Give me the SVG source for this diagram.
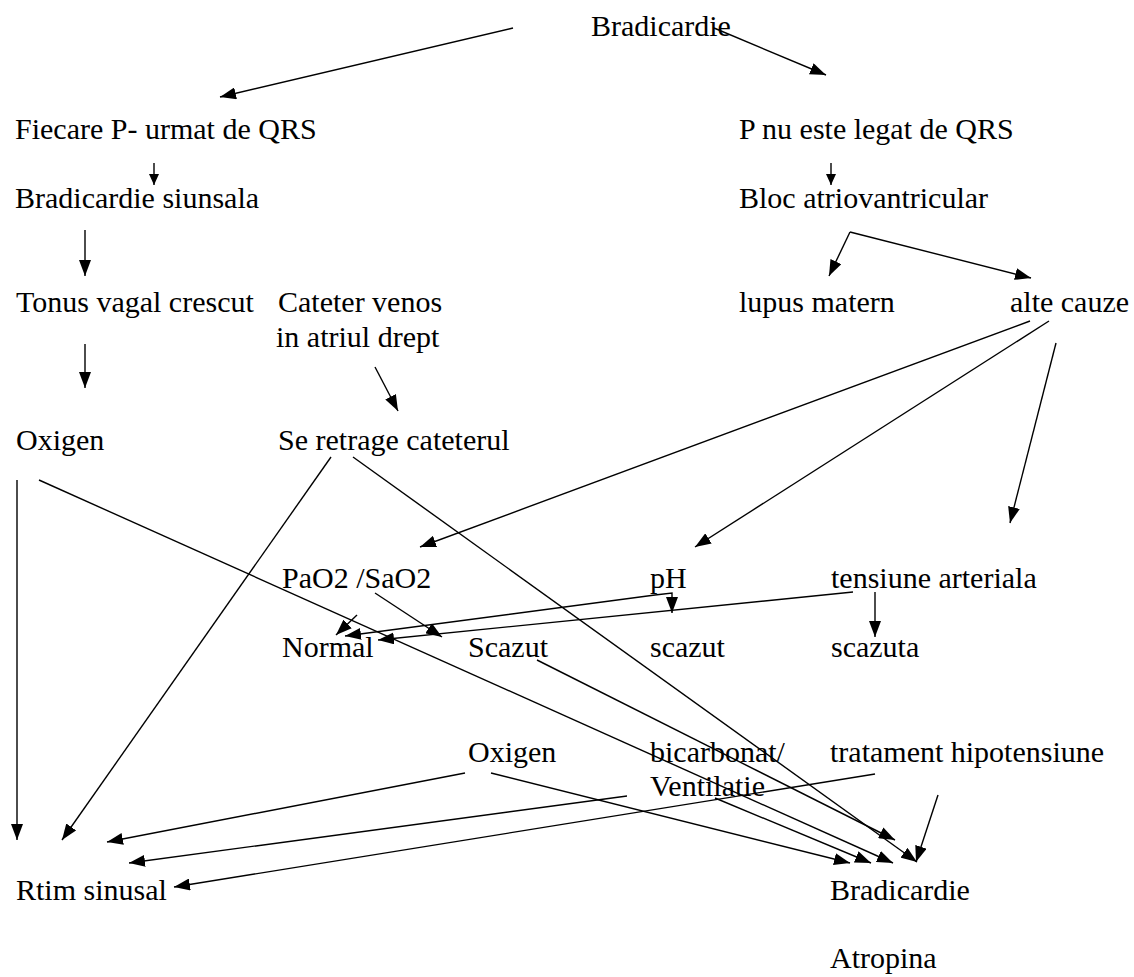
<svg xmlns="http://www.w3.org/2000/svg" width="1134" height="977" viewBox="0 0 1134 977">
<style>
text{font-family:"Liberation Serif","Times New Roman",serif;font-size:30px;fill:#000}
.c line,.c polyline{stroke:#000;stroke-width:1.4;fill:none}
.a{marker-end:url(#ah)}
.s{marker-end:url(#as)}
</style>
<defs>
<marker id="ah" markerUnits="userSpaceOnUse" markerWidth="16" markerHeight="12" refX="16" refY="6" orient="auto"><path d="M0,0 L16,6 L0,12 z" fill="#000"/></marker>
<marker id="ah2" markerUnits="userSpaceOnUse" markerWidth="16" markerHeight="12" refX="16" refY="6" orient="auto-start-reverse"><path d="M0,0 L16,6 L0,12 z" fill="#000"/></marker>
<marker id="as" markerUnits="userSpaceOnUse" markerWidth="11" markerHeight="10" refX="11" refY="5" orient="auto"><path d="M0,0 L11,5 L0,10 z" fill="#000"/></marker>
</defs>
<rect width="1134" height="977" fill="#fff"/>
<g id="n-bradicardie-top"><text x="591" y="36">Bradicardie</text></g>
<g id="n-fiecare"><text x="15" y="139">Fiecare P- urmat de QRS</text></g>
<g id="n-pnu"><text x="739" y="139">P nu este legat de QRS</text></g>
<g id="n-brad-sinusala"><text x="15" y="208">Bradicardie siunsala</text></g>
<g id="n-bloc"><text x="739" y="208">Bloc atriovantricular</text></g>
<g id="n-tonus"><text x="16" y="312">Tonus vagal crescut</text></g>
<g id="n-cateter"><text x="278" y="312">Cateter venos</text><text x="276" y="347">in atriul drept</text></g>
<g id="n-lupus"><text x="739" y="312">lupus matern</text></g>
<g id="n-alte"><text x="1010" y="312">alte cauze</text></g>
<g id="n-oxigen1"><text x="16" y="450">Oxigen</text></g>
<g id="n-retrage"><text x="278" y="450">Se retrage cateterul</text></g>
<g id="n-pao2"><text x="282" y="588">PaO2 /SaO2</text></g>
<g id="n-ph"><text x="650" y="588">pH</text></g>
<g id="n-tensiune"><text x="831" y="588">tensiune arteriala</text></g>
<g id="n-normal"><text x="282" y="657">Normal</text></g>
<g id="n-scazut1"><text x="468" y="657">Scazut</text></g>
<g id="n-scazut2"><text x="650" y="657">scazut</text></g>
<g id="n-scazuta"><text x="831" y="657">scazuta</text></g>
<g id="n-oxigen2"><text x="468" y="762">Oxigen</text></g>
<g id="n-bicarbonat"><text x="650" y="762">bicarbonat/</text><text x="650" y="796">Ventilatie</text></g>
<g id="n-tratament"><text x="830" y="762">tratament hipotensiune</text></g>
<g id="n-rtim"><text x="16" y="900">Rtim sinusal</text></g>
<g id="n-bradicardie-bottom"><text x="830" y="900">Bradicardie</text></g>
<g id="n-atropina"><text x="830" y="968">Atropina</text></g>
<g id="connectors" class="c">
<line class="a" x1="513" y1="28" x2="220" y2="97"/>
<line class="a" x1="714" y1="28" x2="826" y2="75"/>
<line class="s" x1="154" y1="163" x2="154" y2="185"/>
<line class="s" x1="831" y1="163" x2="831" y2="185"/>
<line class="a" x1="85" y1="230" x2="85" y2="276"/>
<line class="a" x1="850" y1="232" x2="829" y2="276"/>
<line class="a" x1="850" y1="232" x2="1031" y2="278"/>
<line class="a" x1="85" y1="344" x2="85" y2="388"/>
<line class="a" x1="375" y1="367" x2="398" y2="411"/>
<line class="a" x1="1030" y1="321" x2="420" y2="547"/>
<line class="a" x1="1049" y1="321" x2="695" y2="547"/>
<line class="a" x1="1056" y1="343" x2="1010" y2="523"/>
<line class="a" x1="17" y1="480" x2="17" y2="840"/>
<line class="a" x1="39" y1="480" x2="893" y2="863"/>
<line class="a" x1="331" y1="457" x2="62" y2="840"/>
<line class="a" x1="353" y1="457" x2="917" y2="862"/>
<line class="a" x1="375" y1="593" x2="442" y2="637"/>
<line class="a" x1="357" y1="615" x2="336" y2="635"/>
<polyline points="345,636 655,595 672,593 672,613" marker-start="url(#ah2)" marker-end="url(#ah)"/>
<line class="a" x1="853" y1="592" x2="378" y2="640"/>
<line class="a" x1="875" y1="592" x2="875" y2="637"/>
<line class="a" x1="537" y1="660" x2="895" y2="840"/>
<line class="a" x1="465" y1="773" x2="107" y2="842"/>
<line class="a" x1="491" y1="773" x2="850" y2="863"/>
<line class="a" x1="627" y1="796" x2="129" y2="863"/>
<line class="a" x1="715" y1="798" x2="871" y2="863"/>
<line class="a" x1="875" y1="774" x2="174" y2="887"/>
<line class="a" x1="938" y1="795" x2="916" y2="862"/>
</g>
</svg>
